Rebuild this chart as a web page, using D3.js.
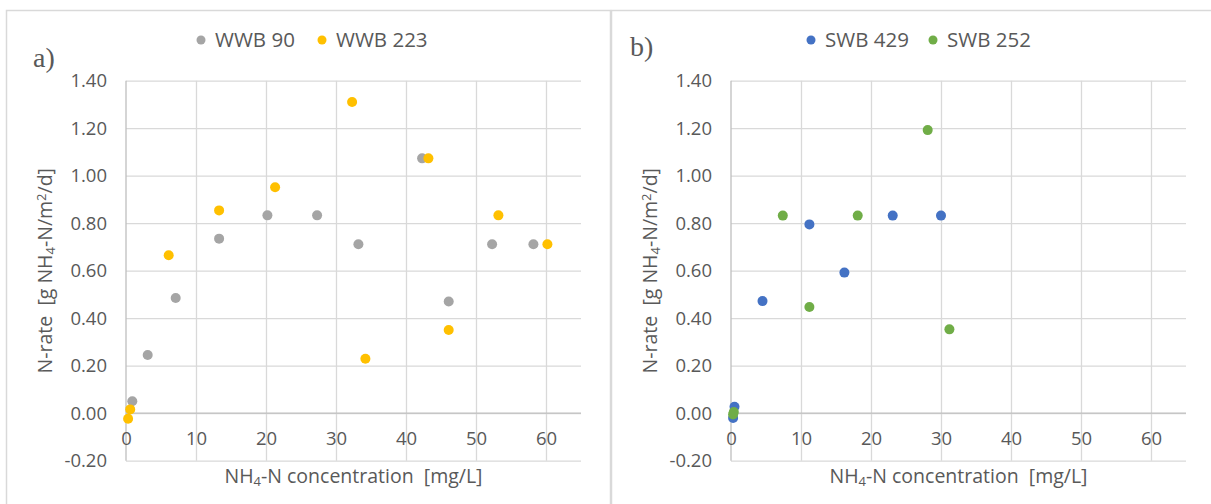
<!DOCTYPE html>
<html>
<head>
<meta charset="utf-8">
<script src="https://cdn.jsdelivr.net/npm/d3@7"></script>
<style>
  html, body { margin: 0; padding: 0; background: #fff; }
  svg { display: block; }
  text { font-family: "Open Sans", "Noto Sans", sans-serif; fill: #595959; }
</style>
</head>
<body>
<svg id="chart" width="1211" height="504"></svg>
<script>
// Ammonium removal rate versus NH4-N concentration, two panels
const xTicks = [0, 10, 20, 30, 40, 50, 60];
const yTicks = [-0.2, 0, 0.2, 0.4, 0.6, 0.8, 1.0, 1.2, 1.4];

// Panel a)
const wwb90X  = [0.9, 3.1, 7.1, 13.3, 20.2, 27.3, 33.2, 42.3, 46.1, 52.3, 58.2];
const wwb90Y  = [0.05, 0.245, 0.485, 0.735, 0.833, 0.833, 0.711, 1.073, 0.47, 0.711, 0.711];
const wwb223X = [0.3, 0.6, 6.1, 13.3, 21.3, 32.3, 34.2, 43.2, 46.1, 53.2, 60.2];
const wwb223Y = [-0.023, 0.016, 0.665, 0.854, 0.951, 1.31, 0.229, 1.073, 0.35, 0.833, 0.711];

// Panel b)
const swb429X = [0.3, 0.5, 4.5, 11.2, 16.2, 23.1, 30.0];
const swb429Y = [-0.02, 0.027, 0.472, 0.795, 0.592, 0.832, 0.832];
const swb252X = [0.3, 0.4, 7.4, 11.2, 18.1, 28.1, 31.2];
const swb252Y = [-0.005, 0.005, 0.832, 0.447, 0.832, 1.192, 0.353];

const panels = [
  {
    tag: "a)", frameX: 6, frameW: 604, tagX: 33, tagY: 67,
    plotLeft: 126, plotRight: 581,
    series: [
      { name: "WWB 90", color: "#A5A5A5", xs: wwb90X, ys: wwb90Y, legendX: 201 },
      { name: "WWB 223", color: "#FFC000", xs: wwb223X, ys: wwb223Y, legendX: 322 }
    ]
  },
  {
    tag: "b)", frameX: 611, frameW: 620, tagX: 630, tagY: 56,
    plotLeft: 731, plotRight: 1186,
    series: [
      { name: "SWB 429", color: "#4472C4", xs: swb429X, ys: swb429Y, legendX: 811 },
      { name: "SWB 252", color: "#70AD47", xs: swb252X, ys: swb252Y, legendX: 933 }
    ]
  }
];

const svg = d3.select("#chart");
const plotTop = 80.7, plotBottom = 460.7;
// two decimals, plain hyphen for negatives
const fmt = d => (d < 0 ? "-" : "") + Math.abs(d).toFixed(2);

panels.forEach(p => {
  const g = svg.append("g");

  // panel frame (open at the bottom edge of the page)
  g.append("rect")
    .attr("x", p.frameX + 0.5).attr("y", 10.5)
    .attr("width", p.frameW).attr("height", 520)
    .attr("fill", "none").attr("stroke", "#D9D9D9").attr("stroke-width", 1.5);

  const x = d3.scaleLinear().domain([0, 65]).range([p.plotLeft, p.plotRight]);
  const y = d3.scaleLinear().domain([-0.2, 1.4]).range([plotBottom, plotTop]);

  // horizontal gridlines
  g.append("g")
    .attr("transform", `translate(${p.plotLeft},0)`)
    .call(d3.axisLeft(y).tickValues(yTicks).tickSize(-(p.plotRight - p.plotLeft)).tickFormat(""))
    .call(a => a.select(".domain").remove())
    .call(a => a.selectAll("line").attr("stroke", "#D9D9D9").attr("stroke-width", 1.3));

  // vertical gridlines
  g.append("g")
    .attr("transform", `translate(0,${plotBottom})`)
    .call(d3.axisBottom(x).tickValues(xTicks.filter(v => v > 0)).tickSize(-(plotBottom - plotTop)).tickFormat(""))
    .call(a => a.select(".domain").remove())
    .call(a => a.selectAll("line").attr("stroke", "#D9D9D9").attr("stroke-width", 1.3));

  // axis lines through the origin
  g.append("line")
    .attr("x1", x(0)).attr("x2", x(0)).attr("y1", y(-0.2)).attr("y2", y(1.4))
    .attr("stroke", "#BFBFBF").attr("stroke-width", 1.3);
  g.append("line")
    .attr("x1", x(0)).attr("x2", x(65)).attr("y1", y(0)).attr("y2", y(0))
    .attr("stroke", "#BFBFBF").attr("stroke-width", 1.3);

  // y tick labels
  g.append("g")
    .attr("transform", `translate(${p.plotLeft},0)`)
    .call(d3.axisLeft(y).tickValues(yTicks).tickSize(0).tickPadding(19).tickFormat(fmt))
    .call(a => a.select(".domain").remove())
    .call(a => a.selectAll("text")
      .style("font-family", '"Open Sans", sans-serif')
      .style("font-size", "18.5px").attr("fill", "#595959"));

  // x tick labels, hung below the zero line
  g.append("g")
    .attr("transform", `translate(0,${y(0)})`)
    .call(d3.axisBottom(x).tickValues(xTicks).tickSize(0).tickPadding(19).tickFormat(d3.format("d")))
    .call(a => a.select(".domain").remove())
    .call(a => a.selectAll("text")
      .style("font-family", '"Open Sans", sans-serif')
      .style("font-size", "18.5px").attr("fill", "#595959"));

  // axis titles
  const xt = g.append("text")
    .attr("x", (p.plotLeft + p.plotRight) / 2).attr("y", 483)
    .attr("text-anchor", "middle").style("font-size", "19.5px").style("white-space", "pre");
  xt.append("tspan").text("NH");
  xt.append("tspan").text("4").attr("baseline-shift", "-25%").style("font-size", "13px");
  xt.append("tspan").text("-N concentration  [mg/L]");

  const yt = g.append("text")
    .attr("transform", `translate(${p.plotLeft - 74},${(plotTop + plotBottom) / 2}) rotate(-90)`)
    .attr("text-anchor", "middle").style("font-size", "19.5px").style("white-space", "pre");
  yt.append("tspan").text("N-rate  [g NH");
  yt.append("tspan").text("4").attr("baseline-shift", "-25%").style("font-size", "13px");
  yt.append("tspan").text("-N/m");
  yt.append("tspan").text("2").attr("baseline-shift", "45%").style("font-size", "13px");
  yt.append("tspan").text("/d]");

  // panel tag
  g.append("text")
    .attr("x", p.tagX).attr("y", p.tagY)
    .style("font-family", '"Liberation Serif", "Times New Roman", serif')
    .style("font-size", "28px").attr("fill", "#000")
    .text(p.tag);

  // legend
  p.series.forEach(s => {
    g.append("circle").attr("cx", s.legendX).attr("cy", 40).attr("r", 4.5).attr("fill", s.color);
    g.append("text").attr("x", s.legendX + 14).attr("y", 40).attr("dy", "0.35em")
      .style("font-size", "20.5px").text(s.name);
  });

  // markers
  p.series.forEach(s => {
    const pts = s.xs.map((v, i) => [v, s.ys[i]]);
    g.append("g").selectAll("circle").data(pts).join("circle")
      .attr("cx", d => x(d[0])).attr("cy", d => y(d[1]))
      .attr("r", 5).attr("fill", s.color);
  });
});
</script>
</body>
</html>
